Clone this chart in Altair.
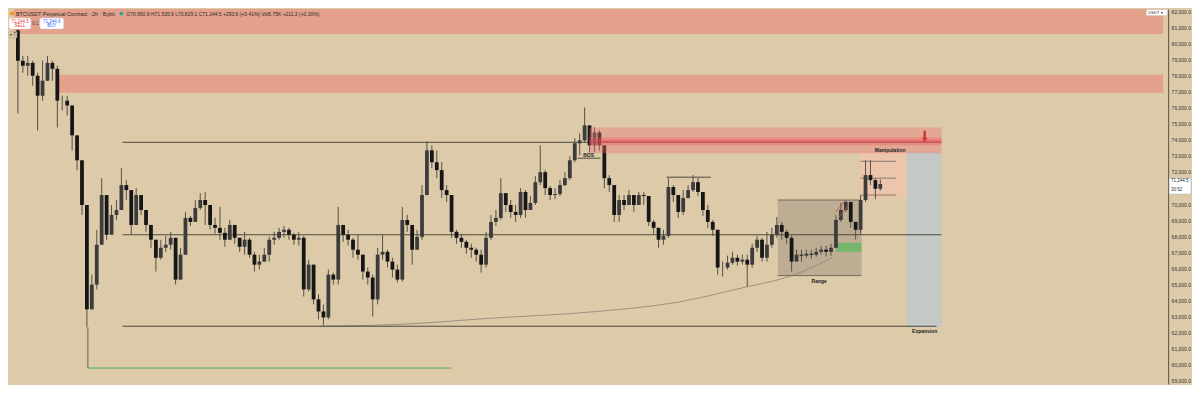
import altair as alt
import pandas as pd

# ---------------- data ----------------
first_open = 80800
closes = [78910, 78600, 78780, 77980, 76740, 77670, 78780, 78410, 76430, 76430,
          76130, 74270, 72720, 69940, 63450, 64990, 67470, 70560, 68090, 69320,
          69630, 71180, 70870, 68700, 70560, 69630, 68700, 67780, 66660, 67280,
          67470, 67900, 65300, 66850, 69140, 68890, 69760, 70250, 69940, 68700,
          68520, 68210, 67780, 68700, 67900, 67340, 67780, 66850, 66230, 66420,
          66850, 67780, 67900, 68270, 68400, 68090, 67780, 67900, 64690, 66230,
          64070, 63320, 62950, 65610, 65300, 68700, 68090, 67780, 67160, 66850,
          65800, 65430, 64070, 66850, 67030, 66420, 65920, 65300, 69010, 68700,
          67160, 67960, 70560, 73340, 72600, 72110, 70870, 70560, 68270, 67900,
          67650, 67280, 67160, 66850, 66230, 67900, 68890, 69140, 70680, 69940,
          69510, 69320, 70750, 69630, 70070, 71360, 71980, 70990, 70560, 70620,
          71180, 71610, 72720, 73780, 73960, 74890, 73650, 74450, 73650, 71610,
          71180, 69320, 70250, 69940, 70560, 69940, 70560, 70500, 68890, 68520,
          67780, 68020, 71060, 70560, 69510, 70370, 70870, 71360, 70750, 69630,
          68890, 68400, 66050, 66050, 66350, 66660, 66420, 66540, 66230, 67280,
          67780, 66660, 67470, 68090, 68700, 68270, 67900, 66420, 66850, 66790,
          66910, 66850, 67030, 67160, 67030, 67280, 69010, 69630, 70130, 68890,
          68400, 70250, 71800, 71490, 70950.9, 71244.5]
highs = [81260, 79220, 79220, 78910, 78170, 78910, 79220, 78910, 78600, 76740,
         76740, 76130, 73960, 71800, 69940, 65610, 68400, 71610, 70560, 69940,
         70250, 72230, 71490, 70560, 70990, 70560, 69630, 68700, 67780, 67780,
         68020, 68270, 67780, 67280, 69510, 69260, 70250, 70680, 70750, 69320,
         69140, 69820, 68520, 69010, 68700, 67900, 68270, 67900, 67030, 66850,
         67280, 67960, 68270, 68520, 68640, 68520, 68210, 68270, 68020, 66540,
         66230, 64380, 63760, 65920, 65740, 69820, 68700, 68400, 67900, 68090,
         66850, 66050, 65610, 67280, 68090, 67160, 66660, 66230, 69820, 69320,
         68700, 68400, 71180, 73900, 73650, 73340, 72600, 71180, 70560, 68400,
         68150, 67780, 67530, 67280, 67160, 68270, 69320, 69630, 71610, 70560,
         70250, 69940, 70990, 70870, 70500, 71740, 73650, 72110, 71120, 70990,
         71490, 71980, 72970, 74090, 74390, 76000, 74700, 74770, 74580, 73650,
         71800, 70870, 70560, 70560, 70870, 70560, 70750, 70750, 70370, 69010,
         68520, 68400, 71610, 71180, 70560, 70870, 71180, 71800, 71610, 70750,
         69940, 69010, 68400, 66420, 66790, 67030, 66850, 66850, 66850, 67530,
         68020, 67900, 68270, 68520, 69200, 68890, 68400, 68020, 67160, 67160,
         67160, 67160, 67280, 67400, 67400, 67530, 69320, 70070, 70250, 69940,
         68890, 70560, 72720, 72720, 71610, 71535.9]
lows = [75630, 78170, 77980, 77360, 74580, 76430, 77980, 77670, 74770, 75820,
        75510, 73340, 72110, 69320, 62340, 64070, 64690, 69320, 67780, 68700,
        69010, 70250, 70250, 68090, 69940, 69320, 68270, 67280, 65800, 66540,
        67030, 67160, 64990, 65920, 67160, 68640, 68890, 69630, 68700, 68400,
        68150, 67780, 67340, 67780, 67530, 67030, 66850, 66660, 65800, 65920,
        66420, 66420, 67470, 67780, 67900, 67780, 67470, 67410, 64250, 64560,
        63760, 62830, 62460, 62830, 64990, 64990, 67650, 67410, 66660, 66540,
        65300, 64990, 63000, 63760, 66540, 66050, 65430, 65120, 65180, 68270,
        66230, 67470, 67780, 70560, 72230, 71610, 70370, 70130, 67900, 67530,
        67280, 66910, 66660, 66420, 65740, 66050, 67780, 68640, 69010, 69510,
        69140, 68890, 69140, 69140, 69630, 69940, 71180, 70560, 70250, 70310,
        70500, 71120, 71490, 72600, 73030, 73840, 73220, 73220, 73340, 70990,
        70750, 68890, 68890, 69630, 69940, 69510, 70130, 69940, 68640, 68090,
        67280, 67470, 67900, 70130, 69140, 69320, 70500, 70750, 70500, 69260,
        68520, 68020, 65610, 65490, 65920, 66230, 66170, 66230, 64870, 66050,
        67030, 66420, 66420, 67280, 67900, 67780, 67530, 65800, 66420, 66420,
        66660, 66600, 66720, 66850, 66720, 66790, 67280, 68890, 69510, 68520,
        67780, 68150, 70130, 71180, 70310, 70829.1]

# 71,000 is hidden under the last-price tag in the reference
price_ticks = [59000, 60000, 61000, 62000, 63000, 64000, 65000, 66000, 67000, 68000,
               69000, 70000, 72000, 73000, 74000, 75000, 76000, 77000, 78000,
               79000, 80000, 81000, 82000]

# shaded zones: start bar, end bar, low price, high price
zone_name = ["top_supply", "supply2", "ob_outer", "ob_inner", "ob_core",
             "range", "demand", "manip", "expansion"]
zone_x0 = [-0.8, 8.0, 116.0, 116.0, 116.0, 154.2, 166.0, 171.0, 180.4]
zone_x1 = [232.4, 232.4, 187.4, 187.4, 187.4, 171.2, 171.2, 180.4, 187.4]
zone_lo = [80578, 76929, 73157, 73650, 73840, 65550, 67030, 70374, 62335]
zone_hi = [83000, 78042, 74765, 74150, 73960, 70250, 67590, 73219, 73219]

# horizontal levels: start bar, end bar, price
level_x0 = [21.2, 21.2, 21.2, 14.2, 113.6, 131.6, 171.0, 171.0, 171.0, 154.2, 154.2]
level_x1 = [187.4, 187.4, 186.4, 88.0, 118.2, 140.6, 178.2, 178.2, 178.2, 171.2, 171.2]
level_p = [73840, 68090, 62400, 59800, 72850, 71670, 72660, 71610, 70560, 70250, 65550]
level_kind = ["black", "black", "black", "green", "black", "black", "grey", "grey", "grey",
              "box", "box"]

# curved trend line (bar, price)
curve_bar = [61.2, 77.6, 95.6, 117.6, 133.6, 148.2, 153.6, 157.6, 165.2]
curve_p = [62400, 62520, 62890, 63320, 63880, 64870, 65240, 65610, 66660]

# labels
label_text = ["BOS", "Range", "Manipulation", "Expansion"]
label_bar = [115.8, 162.6, 177.0, 184.0]
label_p = [73080, 65240, 73340, 62090]

# ---------------- layout ----------------
W, H = 1166, 377
BG = "#DCCAA8"
FONT = "Liberation Sans"
xs = alt.Scale(domain=[-0.8, 232.4], nice=False, zero=False)
ys = alt.Scale(domain=[58814, 82124], nice=False, zero=False)
yaxis = alt.Axis(orient="right", values=price_ticks, format=",.1f", labelFontSize=5,
                 labelColor="#333333", labelFont=FONT, domainColor="#5a5245",
                 domainWidth=1, ticks=False, labelPadding=3, grid=False, title=None)


def X(f):
    return alt.X(f, type="quantitative", scale=xs, axis=None)


def Y(f):
    return alt.Y(f, type="quantitative", scale=ys, axis=yaxis)


n = len(closes)
opens = [first_open] + closes[:-1]
df = pd.DataFrame({"bar": list(range(n)), "open": opens, "close": closes,
                   "high": highs, "low": lows})
df["hi"] = df[["high", "open", "close"]].max(axis=1)
df["lo"] = df[["low", "open", "close"]].min(axis=1)
df["col"] = ["#3c3c3c" if c >= o else "#161616" for o, c in zip(df.open, df.close)]

zone_style = {
    "top_supply": ("#E3A08B", 1.0), "supply2": ("#E3A08B", 1.0),
    "ob_outer": ("#F07070", 0.38), "ob_inner": ("#EE5A66", 0.35),
    "ob_core": ("#E8404F", 0.5), "range": ("#7d7468", 0.32),
    "demand": ("#5fb85f", 0.75), "manip": ("#F2C3AE", 0.75),
    "expansion": ("#C5C9C6", 1.0),
}
zones = pd.DataFrame({"name": zone_name, "x0": zone_x0, "x1": zone_x1,
                      "lo": zone_lo, "hi": zone_hi})
zones["fill"] = [zone_style[k][0] for k in zones.name]
zones["op"] = [zone_style[k][1] for k in zones.name]

back_names = ["top_supply", "supply2", "range", "demand", "manip", "expansion"]
front_names = ["ob_outer", "ob_inner", "ob_core"]


def zone_layer(names):
    d = zones[zones.name.isin(names)]
    return alt.Chart(d).mark_rect(clip=True).encode(
        x=X("x0"), x2="x1", y=Y("lo"), y2="hi",
        color=alt.Color("fill:N", scale=None),
        opacity=alt.Opacity("op:Q", scale=None))


level_style = {"black": ("#3d3a35", 0.9), "green": ("#4caf50", 1.0),
               "grey": ("#6e6a63", 0.8), "box": ("#6a6258", 0.9)}
levels = pd.DataFrame({"x0": level_x0, "x1": level_x1, "p": level_p, "kind": level_kind})
levels["c"] = [level_style[k][0] for k in levels.kind]
levels["w"] = [level_style[k][1] for k in levels.kind]

level_layer = alt.Chart(levels).mark_rule().encode(
    x=X("x0"), x2="x1", y=Y("p"),
    color=alt.Color("c:N", scale=None),
    strokeWidth=alt.StrokeWidth("w:Q", scale=None))

# vertical connector from the low down to the green line
vert = pd.DataFrame({"b": [14.2], "p0": [62340], "p1": [59800]})
vert_layer = alt.Chart(vert).mark_rule(color="#5a564f", strokeWidth=0.9).encode(
    x=X("b"), y=Y("p0"), y2="p1")

curve = pd.DataFrame({"b": curve_bar, "p": curve_p})
curve_layer = alt.Chart(curve).mark_line(color="#8a8377", strokeWidth=0.8,
                                         interpolate="monotone").encode(
    x=X("b"), y=Y("p"))

wicks = alt.Chart(df).mark_rule(color="#55504a", strokeWidth=1).encode(
    x=X("bar"), y=Y("lo"), y2="hi")
bodies = alt.Chart(df).mark_bar(size=3.8).encode(
    x=X("bar"), y=Y("open"), y2="close", color=alt.Color("col:N", scale=None))

# red channel strokes near the range high
chan = pd.DataFrame({"g": ["a", "a", "b", "b"], "b": [166.0, 168.0, 166.5, 168.6],
                     "p": [69510, 70250, 69140, 69940]})
chan_layer = alt.Chart(chan).mark_line(color="#d9534f", strokeWidth=0.9).encode(
    x=X("b"), y=Y("p"), detail="g:N")

# red down arrow
arrow = pd.DataFrame({"b": [184.0], "p0": [74560], "p1": [74150], "tip": [73990]})
arrow_stem = alt.Chart(arrow).mark_rule(color="#d32f2f", strokeWidth=2.5).encode(
    x=X("b"), y=Y("p0"), y2="p1")
arrow_head = alt.Chart(arrow).mark_point(shape="triangle-down", filled=True,
                                         color="#d32f2f", size=28, opacity=1).encode(
    x=X("b"), y=Y("tip"))

labels = pd.DataFrame({"t": label_text, "b": label_bar, "p": label_p})
label_layer = alt.Chart(labels).mark_text(fontSize=5, font=FONT, color="#222222",
                                          fontWeight="bold").encode(
    x=X("b"), y=Y("p"), text="t:N")

# ---------------- header / price tags ----------------
one = pd.DataFrame({"a": [0]})
hdr = [
    alt.Chart(one).mark_circle(x=3, y=4.5, size=16, color="#F7931A", opacity=1),
    alt.Chart(one).mark_text(x=7, y=4.5, align="left", baseline="middle", fontSize=5.4,
                             font=FONT, color="#2b2b2b",
                             text="BTCUSDT Perpetual Contract · 2h · Bybit"),
    alt.Chart(one).mark_circle(x=113, y=4.5, size=14, color="#26a69a", opacity=1),
    alt.Chart(one).mark_text(x=118, y=4.5, align="left", baseline="middle", fontSize=5,
                             font=FONT, color="#2b2b2b",
                             text="O70,950.9 H71,535.9 L70,829.1 C71,244.5 +293.6 (+0.41%) Vol5.75K +211.3 (+0.30%)"),
    alt.Chart(one).mark_rect(x=0, x2=22, y=9, y2=20, fill="#ffffff", stroke="#d8c8c8",
                             strokeWidth=0.5, cornerRadius=2),
    alt.Chart(one).mark_text(x=11, y=12.5, fontSize=4.5, font=FONT, color="#e53935",
                             text="71,244.5"),
    alt.Chart(one).mark_text(x=11, y=17, fontSize=4.5, font=FONT, color="#e53935",
                             text="SELL"),
    alt.Chart(one).mark_text(x=26.5, y=14.5, fontSize=4.5, font=FONT, color="#333333",
                             text="0.1"),
    alt.Chart(one).mark_rect(x=31, x2=55, y=9, y2=20, fill="#ffffff", stroke="#c8cce0",
                             strokeWidth=0.5, cornerRadius=2),
    alt.Chart(one).mark_text(x=43, y=12.5, fontSize=4.5, font=FONT, color="#2962ff",
                             text="71,244.6"),
    alt.Chart(one).mark_text(x=43, y=17, fontSize=4.5, font=FONT, color="#2962ff",
                             text="BUY"),
    alt.Chart(one).mark_rect(x=0, x2=8, y=22.5, y2=29, fill="#d9c7a4", stroke="#b9a684",
                             strokeWidth=0.5, cornerRadius=1),
    alt.Chart(one).mark_text(x=4, y=26, fontSize=4.5, font=FONT, color="#333333",
                             text="▾ 7"),
    alt.Chart(one).mark_rect(x=W - 22, x2=W - 1, y=0.5, y2=6.5, fill="#ffffff",
                             stroke="#bbbbbb", strokeWidth=0.4),
    alt.Chart(one).mark_text(x=W - 20, y=3.5, align="left", baseline="middle", fontSize=4.2,
                             font=FONT, color="#333333", text="USDT ▾"),
]

last_tag = pd.DataFrame({"lo": [70620], "hi": [71600], "p1": [71420], "p2": [70900],
                         "t1": ["71,244.5"], "t2": ["30:52"]})
tag_layers = [
    alt.Chart(last_tag).mark_rect(fill="#ffffff", stroke="#9aa3b5", strokeWidth=0.4).encode(
        x=alt.value(W + 1), x2=alt.value(W + 23), y=Y("hi"), y2="lo"),
    alt.Chart(last_tag).mark_text(align="left", fontSize=4.5, font=FONT,
                                  color="#1c2a48").encode(
        x=alt.value(W + 3), y=Y("p1"), text="t1:N"),
    alt.Chart(last_tag).mark_text(align="left", fontSize=4.5, font=FONT,
                                  color="#1c2a48").encode(
        x=alt.value(W + 3), y=Y("p2"), text="t2:N"),
]

layers = [zone_layer(back_names), curve_layer, level_layer, vert_layer, wicks, bodies,
          zone_layer(front_names), chan_layer, arrow_stem, arrow_head, label_layer]
layers += tag_layers + hdr

chart = alt.layer(*layers).properties(
    width=W, height=H, padding=0, background=BG
).configure_view(stroke=None, fill=BG)

chart.save("out.html", embed_options={"renderer": "svg", "actions": False})
